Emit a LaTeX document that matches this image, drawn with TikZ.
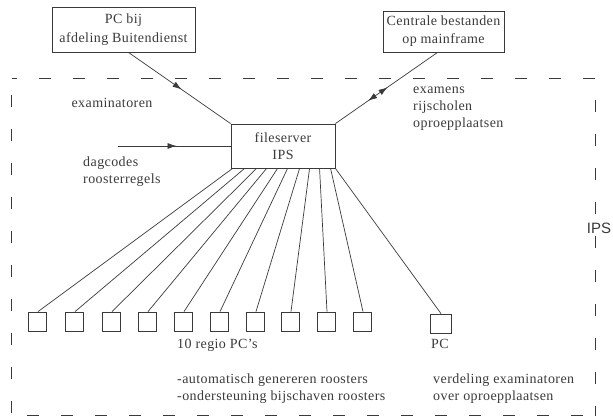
\documentclass[tikz,border=0pt]{standalone}
\usepackage{fontspec}
\setmainfont{Liberation Serif}[LetterSpace=3]
\setsansfont{Liberation Sans}
\usetikzlibrary{arrows.meta,decorations.markings}
\definecolor{ink}{HTML}{3A3A3A}
\begin{document}
\begin{tikzpicture}[x=1pt,y=-1pt,
  txt/.style={text=ink, font=\fontsize{14}{17}\selectfont, inner sep=0pt},
  bigbox/.style={draw=ink, line width=0.9pt, inner sep=0pt, align=center, text=ink},
  pcbox/.style={draw=ink, line width=0.8pt, minimum width=18pt, minimum height=19pt, inner sep=0pt},
  conn/.style={draw=ink, line width=0.7pt},
  frameline/.style={draw=ink, line width=1pt, dash pattern=on 12pt off 22pt},
  midarrow/.style={postaction={decorate}, decoration={markings, mark=at position #1 with {\arrow{Latex[length=9pt,width=6pt]}}}},
  twoarrows/.style={postaction={decorate}, decoration={markings,
     mark=at position 0.49 with {\arrowreversed{Latex[length=9pt,width=6pt]}},
     mark=at position 0.68 with {\arrow{Latex[length=9pt,width=6pt]}}}}
]
\useasboundingbox (0,0) rectangle (613,418);

% frame
\draw[frameline, dash phase=7pt] (12,78) -- (595,78) -- (595,416);
\draw[frameline, dash phase=17pt] (11,78) -- (11,418);
\draw[frameline] (27,415) -- (595,415);
\node[fill=white, text=ink, font=\sffamily\fontsize{15}{15}\selectfont, inner sep=1.5pt] (ips) at (599,228) {IPS};

% main boxes
\node[bigbox, minimum width=143pt, minimum height=45pt, font=\fontsize{14}{19}\selectfont] (pcb) at (123.5,29.5) {PC bij\\afdeling Buitendienst};
\node[bigbox, minimum width=121pt, minimum height=41pt, font=\fontsize{14}{18}\selectfont] (cen) at (443.5,31.5) {Centrale bestanden\\op mainframe};
\node[bigbox, minimum width=104pt, minimum height=44pt, font=\fontsize{14}{17}\selectfont] (fs) at (283,146) {fileserver\\IPS};

% regional PCs
\foreach \i/\x in {1/37,2/74,3/111,4/147,5/183,6/219,7/255,8/290,9/326,10/362}
  \node[pcbox] (r\i) at (\x,321.5) {};
\node[pcbox, minimum width=21pt] (pc) at (441,323.5) {};

\foreach \i/\s in {1/2,2/14,3/26,4/36,5/47,6/57,7/69,8/79,9/89,10/100}
  \draw[conn] ([xshift=\s pt]fs.south west) -- ([xshift=1pt]r\i.north);
\draw[conn] (fs.south east) -- (pc.north);

% incoming connectors
\draw[conn, midarrow=0.52] ([xshift=5pt]pcb.south) -- (fs.north west);
\draw[conn, twoarrows] ([xshift=-6pt]cen.south) -- (fs.north east);
\coordinate (din) at (118,146);
\draw[conn, midarrow=0.52] (din) -- (fs.west);

% labels
\node[txt] (lexam) at (112,103) {examinatoren};
\node[txt, align=left, anchor=west] (lrij) at (413,109) {examens\\rijscholen\\oproepplaatsen};
\node[txt, align=left, anchor=west] (ldag) at (83,171.5) {dagcodes\\roosterregels};
\node[txt, anchor=west] (lregio) at (177,345) {10 regio PC's};
\node[txt] (lpc) at (440,344) {PC};
\node[txt, align=left, anchor=west] (lauto) at (177,389) {-automatisch genereren roosters\\-ondersteuning bijschaven roosters};
\node[txt, align=left, anchor=west] (lverd) at (433,389) {verdeling examinatoren\\over oproepplaatsen};
\end{tikzpicture}
\end{document}
